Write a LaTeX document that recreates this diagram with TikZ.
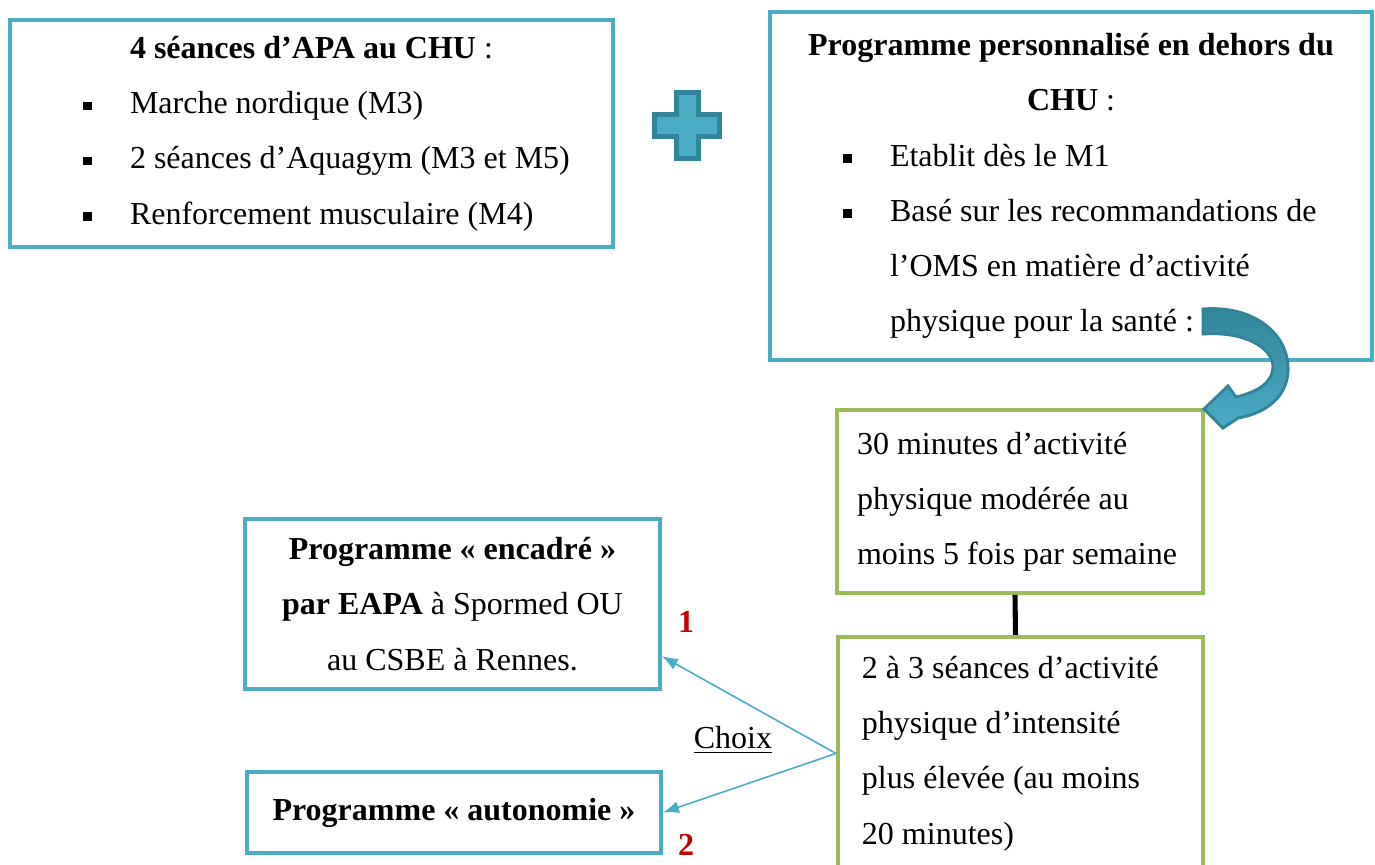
\documentclass[tikz,border=0pt]{standalone}
\usepackage{fontspec}
\setmainfont{Liberation Serif}
\usetikzlibrary{arrows.meta,calc}

\definecolor{bleuBox}{RGB}{75,172,198}
\definecolor{bleuFonce}{RGB}{49,132,155}
\definecolor{vertBox}{RGB}{155,187,89}
\definecolor{rougeNum}{RGB}{192,0,0}

\newcommand{\puce}{\hspace*{27.5pt}\raisebox{1.3pt}{\rule{3.2pt}{3.2pt}}\hspace*{14.3pt}}
\newcommand{\retrait}{\hspace*{45pt}}

\begin{document}
\begin{tikzpicture}[x=0.375pt,y=-0.375pt,
  every node/.style={font=\fontsize{12}{20.7}\selectfont},
  boite/.style={draw=bleuBox,line width=1.5pt,inner sep=0pt},
  cadre/.style={draw=vertBox,line width=1.5pt,inner sep=0pt,align=left},
  choix/.style={draw=bleuBox,line width=0.6pt,-{Latex[length=6pt,width=4.5pt]}},
  num/.style={text=rougeNum,font=\fontsize{12}{20.7}\selectfont\bfseries}]

    \useasboundingbox (0,0) rectangle (1375,865);

    \node[boite,minimum width=226.1pt,minimum height=85.1pt,align=left] (apa) at (311.5,133.5)
      {\makebox[226.1pt]{\textbf{4 séances d’APA au CHU} :}\\
       \puce Marche nordique (M3)\\
       \puce 2 séances d’Aquagym (M3 et M5)\\
       \puce Renforcement musculaire (M4)};

    \node[boite,minimum width=225.75pt,minimum height=130.5pt,align=left] (perso) at (1071,186)
      {\makebox[225.75pt]{\textbf{Programme personnalisé en dehors du}}\\
       \makebox[225.75pt]{\textbf{CHU} :}\\
       \puce Etablit dès le M1\\
       \puce Basé sur les recommandations de\\
       \retrait l’OMS en matière d’activité\\
       \retrait physique pour la santé :};

    % plus
    \draw[draw=bleuFonce,fill=bleuBox,line width=1.9pt,line join=miter]
      (676.5,92.5) -- (698.5,92.5) -- (698.5,114.5) -- (719.5,114.5) -- (719.5,136.5)
      -- (698.5,136.5) -- (698.5,158.5) -- (676.5,158.5) -- (676.5,136.5)
      -- (654.5,136.5) -- (654.5,114.5) -- (676.5,114.5) -- cycle;

    \node[cadre,minimum width=137.25pt,minimum height=68.6pt] (trente) at (1020,501.5)
      {\makebox[122.25pt][l]{30 minutes d’activité}\\
       physique modérée au\\
       moins 5 fois par semaine};

    \node[cadre,minimum width=136.9pt,minimum height=87.4pt] (seances) at (1020.5,753.5)
      {\makebox[118.9pt][l]{2 à 3 séances d’activité}\\
       physique d’intensité\\
       plus élevée (au moins\\
       20 minutes)};

    \node[boite,minimum width=155.6pt,minimum height=63.75pt,align=center] (encadre) at (452.5,604)
      {\textbf{Programme « encadré »}\\
       \textbf{par EAPA} à Spormed OU\\
       au CSBE à Rennes.};

    \node[boite,minimum width=155.25pt,minimum height=30.4pt,align=center] (auto) at (454,812.5)
      {\textbf{Programme « autonomie »}};

    % fleche courbe
    \shade[top color=bleuFonce,bottom color=bleuBox,draw=bleuFonce,line width=1.1pt]
      (1203,309) .. controls (1255,305) and (1290,335) .. (1288,372)
      .. controls (1286,400) and (1262,414) .. (1238,418)
      -- (1223,428) -- (1204,409) -- (1228,386) -- (1236,397)
      .. controls (1258,392) and (1273,382) .. (1273,367)
      .. controls (1273,348) and (1245,331) .. (1203,334) -- cycle;

    \draw[line width=1.9pt] ($(trente.south)+(-5,0)$) -- ($(seances.north)+(-5,0)$);

    \draw[choix] (seances.west) -- ($(encadre.east)!0.6!(encadre.south east)$);
    \draw[choix] (seances.west) -- (auto.east);

    \node (choixlbl) at (733,740) {\underline{Choix}};
    \node[num] (un) at (686,622) {1};
    \node[num] (deux) at (686,845) {2};

  \end{tikzpicture}
\end{document}
